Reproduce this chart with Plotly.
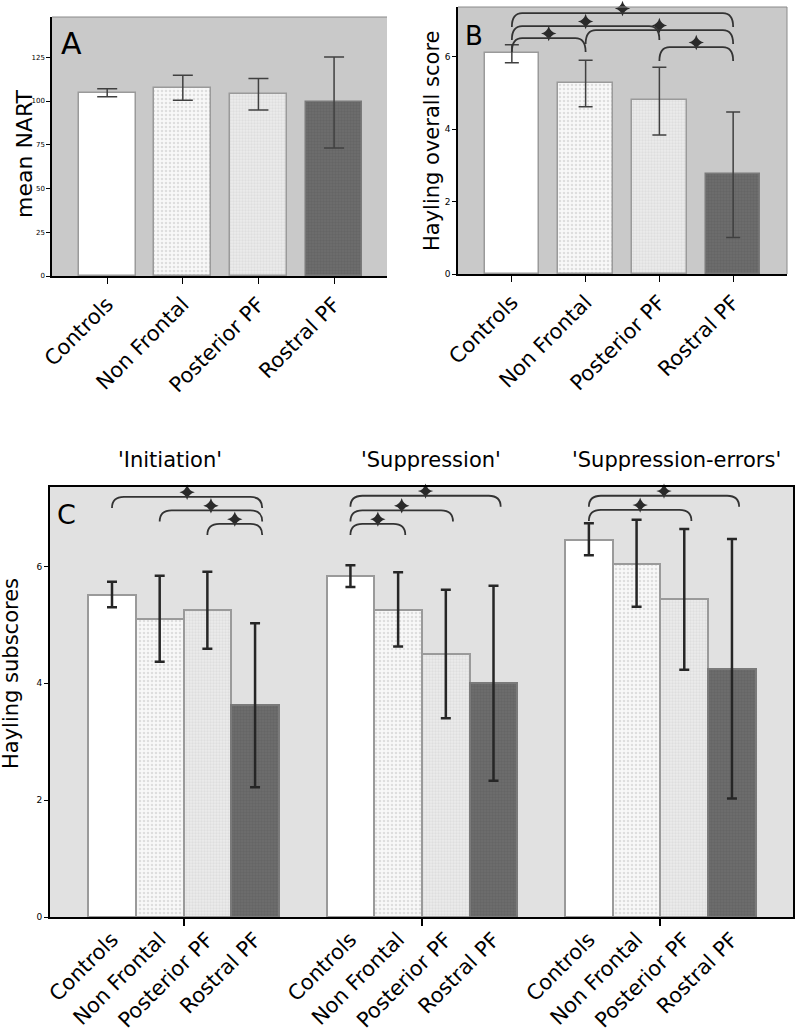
import plotly.graph_objects as go

# ---------------- data ----------------
groups = ["Controls", "Non Frontal", "Posterior PF", "Rostral PF"]

nart_mean = [104.7, 107.6, 103.8, 99.2]
nart_hi = [107.0, 114.7, 112.8, 125.1]
nart_lo = [102.5, 100.4, 94.9, 73.1]

hay_mean = [6.09, 5.27, 4.79, 2.76]
hay_hi = [6.33, 5.90, 5.71, 4.47]
hay_lo = [5.83, 4.62, 3.84, 1.01]

sub_titles = ["'Initiation'", "'Suppression'", "'Suppression-errors'"]
init_mean = [5.51, 5.10, 5.25, 3.63]
init_hi = [5.74, 5.84, 5.91, 5.03]
init_lo = [5.30, 4.37, 4.59, 2.22]
supp_mean = [5.84, 5.26, 4.51, 4.01]
supp_hi = [6.02, 5.90, 5.60, 5.67]
supp_lo = [5.65, 4.63, 3.40, 2.33]
errs_mean = [6.46, 6.05, 5.44, 4.25]
errs_hi = [6.74, 6.80, 6.64, 6.47]
errs_lo = [6.19, 5.31, 4.23, 2.03]

# significance brackets: (group a, group b, bracket level)
hay_sig = [(0, 1, 6.51), (0, 2, 6.84), (0, 3, 7.20), (1, 3, 6.73), (2, 3, 6.26)]
init_sig = [(0, 3, 7.19), (1, 3, 6.96), (2, 3, 6.73)]
supp_sig = [(0, 1, 6.73), (0, 2, 6.96), (0, 3, 7.21)]
errs_sig = [(0, 2, 6.97), (0, 3, 7.21)]

sub_means = [init_mean, supp_mean, errs_mean]
sub_his = [init_hi, supp_hi, errs_hi]
sub_los = [init_lo, supp_lo, errs_lo]
sub_sigs = [init_sig, supp_sig, errs_sig]

# ---------------- styling ----------------
W, H = 795, 1032
FONT = "DejaVu Sans"


def px_x(a, b):
    return [a / W, b / W]


def px_y(top, bottom):
    return [1 - bottom / H, 1 - top / H]


def bar_style(k, lw):
    edge = "#9a9a9a"
    if k == 0:
        return dict(color="white", line=dict(color=edge, width=lw))
    if k == 1:
        return dict(color="#f8f8f8", line=dict(color=edge, width=lw),
                    pattern=dict(shape=".", fgcolor="#c4c4c4", size=4,
                                 solidity=0.35, fillmode="overlay"))
    if k == 2:
        return dict(color="#ececec", line=dict(color=edge, width=lw),
                    pattern=dict(shape=".", fgcolor="#cfcfcf", size=3,
                                 solidity=0.45, fillmode="overlay"))
    return dict(color="#6e6e6e", line=dict(color="#7a7a7a", width=lw),
                pattern=dict(shape=".", fgcolor="#5c5c5c", size=3,
                             solidity=0.5, fillmode="overlay"))


fig = go.Figure()

# ---------------- panel A ----------------
for k, g in enumerate(groups):
    fig.add_trace(go.Bar(
        x=[k], y=[nart_mean[k]], width=0.75, xaxis="x", yaxis="y",
        marker=bar_style(k, 1.5), showlegend=False,
        error_y=dict(type="data", symmetric=False,
                     array=[nart_hi[k] - nart_mean[k]],
                     arrayminus=[nart_mean[k] - nart_lo[k]],
                     color="#404040", thickness=1.5, width=10)))

# ---------------- panel B ----------------
for k, g in enumerate(groups):
    fig.add_trace(go.Bar(
        x=[k], y=[hay_mean[k]], width=0.74, xaxis="x2", yaxis="y2",
        marker=bar_style(k, 1.5), showlegend=False,
        error_y=dict(type="data", symmetric=False,
                     array=[hay_hi[k] - hay_mean[k]],
                     arrayminus=[hay_mean[k] - hay_lo[k]],
                     color="#404040", thickness=1.5, width=7)))

# ---------------- panel C ----------------
GAP = 5  # bar slots per group (4 bars + 1 empty)
for k, g in enumerate(groups):
    xs = [gi * GAP + k for gi in range(len(sub_titles))]
    ys = [m[k] for m in sub_means]
    up = [h[k] - m[k] for h, m in zip(sub_his, sub_means)]
    dn = [m[k] - l[k] for l, m in zip(sub_los, sub_means)]
    fig.add_trace(go.Bar(
        x=xs, y=ys, width=1.0, xaxis="x3", yaxis="y3",
        marker=bar_style(k, 2), showlegend=False,
        error_y=dict(type="data", symmetric=False, array=up, arrayminus=dn,
                     color="#262626", thickness=2.5, width=5)))

shapes = []


def add_brackets(sig, offset, xa, ya, drop, r, extra, star_dy, star_size):
    sx, sy = [], []
    for a, b, lvl in sig:
        x1 = offset + a
        x2 = offset + b + extra
        yb = lvl - drop
        path = (f"M {x1},{yb} Q {x1},{lvl} {x1 + r},{lvl} "
                f"L {x2 - r},{lvl} Q {x2},{lvl} {x2},{yb}")
        shapes.append(dict(type="path", path=path, xref=xa, yref=ya,
                           line=dict(color="#333333", width=1.8)))
        sx.append((x1 + x2) / 2)
        sy.append(lvl + star_dy)
    fig.add_trace(go.Scatter(
        x=sx, y=sy, mode="markers", xaxis=xa, yaxis=ya, showlegend=False,
        cliponaxis=False,
        marker=dict(symbol="star-diamond", size=star_size, color="#2a2a2a",
                    line=dict(width=0)), hoverinfo="skip"))


add_brackets(hay_sig, 0, "x2", "y2", 0.38, 0.14, 0.0, 0.13, 11)
for gi, sig in enumerate(sub_sigs):
    add_brackets(sig, gi * GAP, "x3", "y3", 0.19, 0.25, 0.15, 0.08, 11)

# frame lines (top of A; top/right of B)
shapes.append(dict(type="line", xref="x domain", yref="y domain",
                   x0=0, x1=1, y0=1, y1=1, line=dict(color="#8a8a8a", width=1)))
shapes.append(dict(type="line", xref="x2 domain", yref="y2 domain",
                   x0=0, x1=1, y0=1, y1=1, line=dict(color="#8a8a8a", width=1)))
shapes.append(dict(type="line", xref="x2 domain", yref="y2 domain",
                   x0=1, x1=1, y0=0, y1=1, line=dict(color="#8a8a8a", width=1)))

annotations = []
# panel letters
for letter, xp, yp, size in [("A", 59, 24, 30), ("B", 463, 19, 26), ("C", 55, 497, 27)]:
    annotations.append(dict(text=letter, x=xp / W, y=1 - yp / H, xref="paper",
                            yref="paper", xanchor="left", yanchor="top",
                            showarrow=False, font=dict(size=size, color="black")))
# y-axis titles
for txt, xp, yp, size in [("mean NART", 24, 154, 22),
                          ("Hayling overall score", 432, 141, 21),
                          ("Hayling subscores", 11, 674, 21)]:
    annotations.append(dict(text=txt, x=xp / W, y=1 - yp / H, xref="paper",
                            yref="paper", xanchor="center", yanchor="middle",
                            textangle=-90, showarrow=False,
                            font=dict(size=size, color="black")))
# subscore titles
for gi, (t, xs) in enumerate(zip(sub_titles, [-14, 9, 16])):
    annotations.append(dict(text=t, x=gi * GAP + 1.5, xref="x3", y=1 - 460 / H,
                            yref="paper", xanchor="center", yanchor="middle",
                            xshift=xs, showarrow=False,
                            font=dict(size=21, color="black")))

tick_labels_c = groups * len(sub_titles)
tick_pos_c = [gi * GAP + k for gi in range(len(sub_titles)) for k in range(len(groups))]
group_centers = [gi * GAP + 1.5 for gi in range(len(sub_titles))]

common_x = dict(showgrid=False, zeroline=False, showline=True, linecolor="black",
                tickangle=-45, tickfont=dict(size=21, color="black"),
                tickmode="array", ticks="outside", tickcolor="black",
                automargin=False)
common_y = dict(showgrid=False, zeroline=False, showline=True, linecolor="black",
                ticks="outside", tickcolor="black", ticklen=4, automargin=False)

fig.update_layout(
    template="none",
    width=W, height=H, margin=dict(l=0, r=0, t=0, b=0, pad=0),
    paper_bgcolor="white", plot_bgcolor="white",
    font=dict(family=FONT, color="black"),
    barmode="overlay", bargap=0,
    xaxis=dict(common_x, domain=px_x(52, 387), range=[-0.73, 3.7],
               tickvals=list(range(len(groups))), ticktext=groups,
               ticklen=6, linewidth=1.5, anchor="y"),
    yaxis=dict(common_y, domain=px_y(17, 276), range=[0, 148],
               tickvals=[0, 25, 50, 75, 100, 125], linewidth=1.5,
               tickfont=dict(size=7, color="black"), anchor="x"),
    xaxis2=dict(common_x, domain=px_x(458, 787), range=[-0.73, 3.73],
                tickvals=list(range(len(groups))), ticktext=groups,
                ticklen=6, linewidth=1.5, anchor="y2"),
    yaxis2=dict(common_y, domain=px_y(7, 274), range=[0, 7.37],
                tickvals=[0, 2, 4, 6], linewidth=1.5,
                tickfont=dict(size=9, color="black"), anchor="x2"),
    xaxis3=dict(common_x, domain=px_x(50, 793), range=[-1.3, 14.28],
                tickvals=tick_pos_c, ticktext=tick_labels_c, ticks="",
                linewidth=2, mirror=True, anchor="y3",
                minor=dict(tickmode="array", tickvals=group_centers,
                           ticks="outside", ticklen=7, tickwidth=2,
                           tickcolor="black", showgrid=False)),
    yaxis3=dict(common_y, domain=px_y(487, 917), range=[0, 7.36],
                tickvals=[0, 2, 4, 6], linewidth=2, mirror=True,
                tickfont=dict(size=9, color="black"), anchor="x3"),
    shapes=shapes, annotations=annotations,
)

# panel backgrounds
fig.add_shape(type="rect", xref="x domain", yref="y domain", x0=0, x1=1, y0=0, y1=1,
              fillcolor="#c9c9c9", line=dict(width=0), layer="below")
fig.add_shape(type="rect", xref="x2 domain", yref="y2 domain", x0=0, x1=1, y0=0, y1=1,
              fillcolor="#c9c9c9", line=dict(width=0), layer="below")
fig.add_shape(type="rect", xref="x3 domain", yref="y3 domain", x0=0, x1=1, y0=0, y1=1,
              fillcolor="#e1e1e1", line=dict(width=0), layer="below")

fig.write_html("out.html", config={"displayModeBar": False},
               post_script="document.body.style.margin='0';document.body.style.padding='0';")
